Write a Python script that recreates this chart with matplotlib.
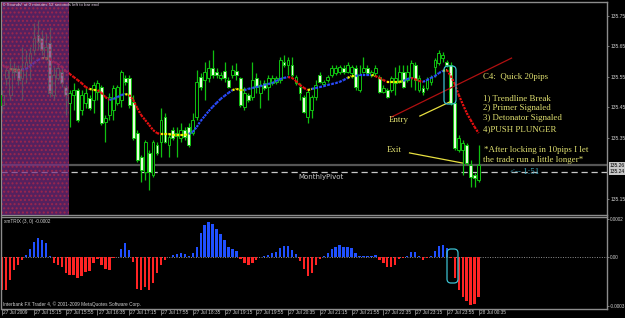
import numpy as np
import matplotlib
matplotlib.use('Agg')
import matplotlib.pyplot as plt
import matplotlib.transforms as mtrans
from matplotlib.collections import LineCollection
from matplotlib.patches import FancyBboxPatch

# ---------------- data (USDJPY-like 5 min bars) ----------------
open_ = [135.458, 135.547, 135.491, 135.579, 135.573, 135.547, 135.579, 135.596, 135.639, 135.688,
         135.678, 135.616, 135.661, 135.491, 135.547, 135.566, 135.517, 135.465, 135.491, 135.507,
         135.442, 135.465, 135.481, 135.475, 135.501, 135.517, 135.402, 135.425, 135.442, 135.465,
         135.475, 135.547, 135.547, 135.468, 135.366, 135.288, 135.238, 135.301, 135.229, 135.327,
         135.337, 135.419, 135.327, 135.376, 135.356, 135.350, 135.376, 135.386, 135.366, 135.419,
         135.550, 135.540, 135.547, 135.579, 135.566, 135.547, 135.570, 135.540, 135.557, 135.570,
         135.547, 135.452, 135.491, 135.484, 135.547, 135.498, 135.530, 135.517, 135.530, 135.534,
         135.540, 135.599, 135.589, 135.589, 135.530, 135.517, 135.484, 135.419, 135.442, 135.484,
         135.557, 135.527, 135.540, 135.557, 135.563, 135.566, 135.579, 135.566, 135.563, 135.579,
         135.507, 135.566, 135.579, 135.557, 135.563, 135.550, 135.501, 135.507, 135.507, 135.530,
         135.534, 135.566, 135.540, 135.550, 135.589, 135.507, 135.514, 135.514, 135.534, 135.583,
         135.596, 135.612, 135.599, 135.589, 135.465, 135.311, 135.311, 135.327, 135.261, 135.229,
         135.212]
high = [135.507, 135.589, 135.612, 135.599, 135.589, 135.648, 135.639, 135.648, 135.727, 135.737,
        135.704, 135.694, 135.714, 135.583, 135.589, 135.583, 135.524, 135.507, 135.530, 135.514,
        135.507, 135.514, 135.491, 135.534, 135.540, 135.524, 135.425, 135.498, 135.524, 135.524,
        135.573, 135.557, 135.557, 135.491, 135.376, 135.294, 135.343, 135.311, 135.343, 135.337,
        135.448, 135.432, 135.366, 135.386, 135.386, 135.399, 135.386, 135.399, 135.432, 135.573,
        135.563, 135.599, 135.606, 135.639, 135.579, 135.566, 135.599, 135.550, 135.589, 135.596,
        135.550, 135.517, 135.498, 135.599, 135.563, 135.540, 135.540, 135.557, 135.557, 135.553,
        135.616, 135.622, 135.616, 135.616, 135.557, 135.530, 135.491, 135.507, 135.491, 135.540,
        135.566, 135.540, 135.557, 135.589, 135.589, 135.589, 135.589, 135.599, 135.589, 135.589,
        135.589, 135.616, 135.589, 135.573, 135.589, 135.557, 135.524, 135.514, 135.553, 135.583,
        135.589, 135.589, 135.589, 135.606, 135.599, 135.557, 135.524, 135.550, 135.557, 135.612,
        135.639, 135.632, 135.606, 135.599, 135.475, 135.360, 135.343, 135.334, 135.278, 135.235,
        135.327]
low = [135.432, 135.524, 135.475, 135.547, 135.524, 135.475, 135.530, 135.540, 135.622, 135.639,
       135.622, 135.606, 135.484, 135.475, 135.540, 135.517, 135.425, 135.386, 135.442, 135.402,
       135.425, 135.448, 135.442, 135.432, 135.475, 135.393, 135.337, 135.409, 135.409, 135.458,
       135.452, 135.524, 135.448, 135.343, 135.271, 135.206, 135.212, 135.179, 135.222, 135.294,
       135.288, 135.334, 135.288, 135.343, 135.288, 135.337, 135.343, 135.320, 135.360, 135.409,
       135.507, 135.475, 135.534, 135.547, 135.547, 135.540, 135.534, 135.514, 135.547, 135.540,
       135.452, 135.442, 135.468, 135.475, 135.498, 135.448, 135.507, 135.475, 135.524, 135.527,
       135.530, 135.583, 135.557, 135.550, 135.524, 135.475, 135.432, 135.399, 135.416, 135.475,
       135.530, 135.520, 135.534, 135.550, 135.557, 135.560, 135.560, 135.563, 135.547, 135.507,
       135.501, 135.563, 135.557, 135.550, 135.557, 135.498, 135.498, 135.481, 135.501, 135.491,
       135.530, 135.514, 135.534, 135.517, 135.507, 135.501, 135.491, 135.507, 135.524, 135.550,
       135.589, 135.599, 135.583, 135.458, 135.311, 135.304, 135.229, 135.261, 135.189, 135.189,
       135.206]
close = [135.491, 135.573, 135.579, 135.566, 135.540, 135.579, 135.599, 135.629, 135.678, 135.665,
         135.639, 135.648, 135.498, 135.557, 135.579, 135.530, 135.491, 135.498, 135.507, 135.409,
         135.491, 135.498, 135.448, 135.524, 135.530, 135.399, 135.416, 135.484, 135.514, 135.517,
         135.566, 135.534, 135.458, 135.350, 135.278, 135.245, 135.337, 135.238, 135.337, 135.301,
         135.409, 135.337, 135.353, 135.350, 135.366, 135.376, 135.353, 135.327, 135.409, 135.534,
         135.517, 135.566, 135.579, 135.557, 135.557, 135.557, 135.547, 135.517, 135.573, 135.557,
         135.458, 135.498, 135.475, 135.540, 135.517, 135.524, 135.514, 135.547, 135.547, 135.547,
         135.606, 135.589, 135.606, 135.557, 135.550, 135.498, 135.435, 135.501, 135.484, 135.524,
         135.534, 135.534, 135.550, 135.579, 135.579, 135.583, 135.566, 135.589, 135.583, 135.517,
         135.557, 135.579, 135.563, 135.566, 135.579, 135.501, 135.514, 135.484, 135.547, 135.547,
         135.566, 135.517, 135.566, 135.596, 135.540, 135.547, 135.501, 135.540, 135.550, 135.606,
         135.629, 135.622, 135.589, 135.465, 135.317, 135.350, 135.334, 135.268, 135.222, 135.219,
         135.261]

# moving average (colour-coded by slope state: r = falling, b = rising, y = flat)
ma = [135.589, 135.583, 135.576, 135.573, 135.573, 135.573, 135.576, 135.586, 135.596, 135.606,
      135.612, 135.611, 135.609, 135.599, 135.593, 135.583, 135.570, 135.560, 135.550, 135.540,
      135.530, 135.517, 135.511, 135.507, 135.507, 135.498, 135.484, 135.475, 135.478, 135.484,
      135.491, 135.494, 135.491, 135.475, 135.448, 135.425, 135.409, 135.393, 135.376, 135.366,
      135.363, 135.363, 135.363, 135.360, 135.360, 135.360, 135.360, 135.363, 135.370, 135.386,
      135.406, 135.422, 135.438, 135.452, 135.465, 135.478, 135.488, 135.498, 135.507, 135.511,
      135.507, 135.507, 135.511, 135.514, 135.517, 135.520, 135.524, 135.527, 135.530, 135.537,
      135.543, 135.547, 135.550, 135.547, 135.537, 135.524, 135.514, 135.507, 135.511, 135.514,
      135.517, 135.520, 135.524, 135.527, 135.530, 135.534, 135.540, 135.547, 135.553, 135.553,
      135.557, 135.557, 135.557, 135.557, 135.553, 135.547, 135.540, 135.534, 135.534, 135.534,
      135.534, 135.537, 135.543, 135.547, 135.543, 135.537, 135.534, 135.540, 135.547, 135.553,
      135.563, 135.570, 135.573, 135.553, 135.527, 135.491, 135.461, 135.432, 135.409, 135.386,
      135.366]
ma_runs = [('r', 3), ('y', 3), ('b', 5), ('y', 2), ('r', 10), ('y', 2), ('r', 3), ('b', 4),
           ('y', 1), ('r', 8), ('y', 7), ('b', 11), ('y', 3), ('b', 11), ('r', 5), ('y', 1),
           ('b', 9), ('y', 2), ('b', 4), ('y', 1), ('r', 3), ('y', 4), ('b', 2), ('r', 3),
           ('b', 5), ('y', 1), ('r', 8)]

# xmTRIX histogram, in units of 0.0001
trix_e4 = [-1.74, -1.74, -1.2, -0.68, -0.42, -0.16, 0.1, 0.4, 0.8, 1.0,
           0.9, 0.75, 0.05, -0.33, -0.42, -0.54, -0.86, -0.95, -0.95, -1.12,
           -1.0, -0.77, -0.74, -0.33, -0.12, -0.42, -0.65, -0.68, -0.07, -0.02,
           0.4, 0.72, 0.37, -0.25, -1.7, -1.74, -1.56, -1.74, -1.35, -0.86,
           -0.42, -0.16, 0.02, 0.09, 0.14, 0.19, 0.16, 0.05, 0.23, 0.54,
           1.25, 1.68, 1.86, 1.74, 1.46, 1.2, 0.89, 0.54, 0.4, 0.33,
           -0.12, -0.3, -0.42, -0.3, -0.16, 0.02, 0.05, 0.1, 0.23, 0.28,
           0.49, 0.6, 0.6, 0.37, 0.14, -0.21, -0.61, -1.0, -0.86, -0.42,
           -0.09, 0.07, 0.23, 0.42, 0.54, 0.61, 0.54, 0.51, 0.46, 0.19,
           0.03, 0.03, 0.03, 0.05, 0.09, -0.16, -0.33, -0.51, -0.54, -0.42,
           -0.09, -0.03, 0.07, 0.28, 0.28, 0.07, -0.16, -0.07, 0.07, 0.33,
           0.58, 0.63, 0.46, -0.05, -1.12, -1.74, -2.1, -2.3, -2.5, -2.46,
           -2.1]

time_labels = ['27 Jul 2009', '27 Jul 15:15', '27 Jul 15:55', '27 Jul 16:35', '27 Jul 17:15',
               '27 Jul 17:55', '27 Jul 18:35', '27 Jul 19:15', '27 Jul 19:55', '27 Jul 20:35',
               '27 Jul 21:15', '27 Jul 21:55', '27 Jul 22:35', '27 Jul 23:15', '27 Jul 23:55',
               '28 Jul 00:35']
label_step = 8

price_ticks = [135.75, 135.65, 135.55, 135.45, 135.35, 135.15]
level_solid = 135.26
monthly_pivot = 135.24

# ---------------- figure ----------------
W, H = 625, 318
fig = plt.figure(figsize=(W / 100, H / 100), dpi=100, facecolor='black')
pxT = mtrans.Affine2D().scale(1.0 / W, -1.0 / H).translate(0, 1) + fig.transFigure

L_PX, R_PX = 1.5, 607.0
ax = fig.add_axes([L_PX / W, 1 - 215 / H, (R_PX - L_PX) / W, (215 - 1.5) / H])
axi = fig.add_axes([L_PX / W, 1 - 308.5 / H, (R_PX - L_PX) / W, (308.5 - 216.5) / H])

BAR_PX, X0_PX = 3.97, 2.2
xl = ((L_PX - X0_PX) / BAR_PX, (R_PX - X0_PX) / BAR_PX)

GRAY = '#8c8c8c'
TXT = '#d0d0d0'
SANS = ['Liberation Sans', 'DejaVu Sans']
SMALL = 3.4
for a in (ax, axi):
    a.set_facecolor('black')
    a.set_xlim(*xl)
    for s in a.spines.values():
        s.set_color(GRAY)
        s.set_linewidth(1.0)
    a.yaxis.tick_right()
    a.tick_params(axis='y', colors=GRAY, labelcolor=TXT, labelsize=3.6,
                  length=1.5, width=0.6, pad=1.2)
axi.tick_params(axis='y', labelsize=3.3, pad=0.8)

# ---------------- main price panel ----------------
ax.set_ylim(135.0975, 135.7975)
ax.set_yticks(price_ticks)
ax.set_yticklabels([f'{p:.2f}' for p in price_ticks], family=SANS)
ax.tick_params(axis='x', bottom=False, labelbottom=False)

o = np.array(open_); h = np.array(high); l = np.array(low); c = np.array(close)
idx = np.arange(len(o))
GREEN = '#10c010'
ax.vlines(idx, l, h, color=GREEN, lw=0.9, zorder=2)
bot = np.minimum(o, c)
bh = np.maximum(np.abs(c - o), 0.0018)
faces = ['black' if cc >= oo else '#e6ffdc' for oo, cc in zip(o, c)]
ax.bar(idx, bh, bottom=bot, width=0.72, color=faces, edgecolor=GREEN,
       linewidth=0.7, zorder=3)

state = ''.join(ch * n for ch, n in ma_runs)
MA_COL = {'r': '#e81010', 'b': '#2a4cff', 'y': '#f0f000'}
pts = np.column_stack([idx, ma])
segs = np.stack([pts[:-1], pts[1:]], axis=1)
lc = LineCollection(segs, colors=[MA_COL[s] for s in state[1:]],
                    linewidths=1.6, linestyles=(0, (1.0, 0.5)), zorder=4)
ax.add_collection(lc)

ax.axhline(level_solid, color='#555555', lw=1.6, zorder=1)
ax.axhline(monthly_pivot, color='#c8c8c8', lw=0.9, dashes=(5, 3), zorder=1)

# trend line and entry / exit pointers
ax.plot([98.1, 128.3], [135.419, 135.612], color='#b01010', lw=0.9, zorder=5)
ax.plot([105.2, 112.7], [135.422, 135.468], color='#e8e040', lw=0.9, zorder=5)
ax.plot([102.6, 115.9], [135.301, 135.268], color='#e8e040', lw=0.9, zorder=5)

# boxed price labels of the horizontal lines
ytr = ax.get_yaxis_transform()
for val in (level_solid, monthly_pivot):
    ax.text(1.0045, val, f'{val:.2f}', transform=ytr, fontsize=3.6, color='black',
            va='center', ha='left', clip_on=False, family=SANS,
            bbox=dict(boxstyle='square,pad=0.15', fc='#c8c8c8', ec='none'))

# shaded (purple) zone at the left
ax.axvspan(xl[0], (69 - X0_PX) / BAR_PX, facecolor=(0.46, 0.18, 0.52), alpha=0.72,
           hatch='....', edgecolor='#b02848', lw=0, zorder=10)

# top-left status text (drawn over the shaded zone)
ax.text(3, 5.5, '0 Sounds! at 0 minutes 52 seconds left to bar end', transform=pxT,
        fontsize=3.2, color='#e4d0e8', va='center', ha='left', zorder=11, family=SANS)

# cyan rounded highlight boxes
fig.add_artist(FancyBboxPatch((444, 66), 12, 38, boxstyle='round,pad=0,rounding_size=4',
                              transform=pxT, fc='none', ec='#3cc0d0', lw=0.9))
fig.add_artist(FancyBboxPatch((447, 249), 11, 34, boxstyle='round,pad=0,rounding_size=4',
                              transform=pxT, fc='none', ec='#3cc0d0', lw=0.9))

# annotation texts
YEL = '#e0e070'
SERIF = ['Liberation Serif', 'DejaVu Serif']
def ptext(x, y, s, **kw):
    fig.text(x / W, 1 - y / H, s, va='center', ha='left', **kw)

ptext(483, 77, 'C4:  Quick 20pips', color=YEL, fontsize=6.4, family=SERIF)
ptext(483, 98, '1) Trendline Break', color=YEL, fontsize=6.4, family=SERIF)
ptext(483, 107.5, '2) Primer Signaled', color=YEL, fontsize=6.4, family=SERIF)
ptext(483, 117.5, '3) Detonator Signaled', color=YEL, fontsize=6.4, family=SERIF)
ptext(483, 129, '4)PUSH PLUNGER', color=YEL, fontsize=6.4, family=SERIF)
ptext(484, 150, '*After locking in 10pips I let', color=YEL, fontsize=6.4, family=SERIF)
ptext(483, 160, 'the trade run a little longer*', color=YEL, fontsize=6.4, family=SERIF)
ptext(389, 120, 'Entry', color=YEL, fontsize=6.4, family=SERIF)
ptext(387, 150, 'Exit', color=YEL, fontsize=6.4, family=SERIF)
ptext(510, 172, '<-- 1:51', color='#3ca8c0', fontsize=6.4, family=SERIF)
ptext(298, 177, 'MonthlyPivot', color='#c8c8c8', fontsize=5, family=['DejaVu Sans'])

# ---------------- indicator panel ----------------
vals = np.array(trix_e4) * 1e-4
axi.set_ylim(-2.71e-4, 2.13e-4)
axi.bar(idx, vals, width=0.6, color=['#2050ff' if v >= 0 else '#ff2424' for v in vals],
        zorder=2)
axi.axhline(0, color='#909090', lw=0.7, ls=(0, (1, 1.5)), zorder=1)
axi.set_yticks([2.0e-4, 0.0, -2.6e-4])
axi.set_yticklabels(['0.0002', '0.00', '-0.0003'], family=SANS)

tick_pos = np.arange(len(time_labels)) * label_step
axi.set_xticks(tick_pos)
axi.tick_params(axis='x', bottom=True, labelbottom=False, direction='out',
                length=4, width=0.6, color=GRAY)
for tp, lab in zip(tick_pos, time_labels):
    axi.text(tp + 0.3, -0.015, lab, transform=axi.get_xaxis_transform(), ha='left',
             va='top', fontsize=SMALL, color=TXT, clip_on=False, family=SANS)

axi.text(4, 221, 'xmTRIX (3, 0) -0.0002', transform=pxT, fontsize=SMALL, color=TXT,
         va='center', ha='left', family=SANS)
axi.text(3, 304.5, 'Interbank FX Trader 4, \u00a9 2001-2009 MetaQuotes Software Corp.',
         transform=pxT, fontsize=SMALL, color=TXT, va='center', ha='left', family=SANS)

fig.savefig('out.png', dpi=100, facecolor='black')
